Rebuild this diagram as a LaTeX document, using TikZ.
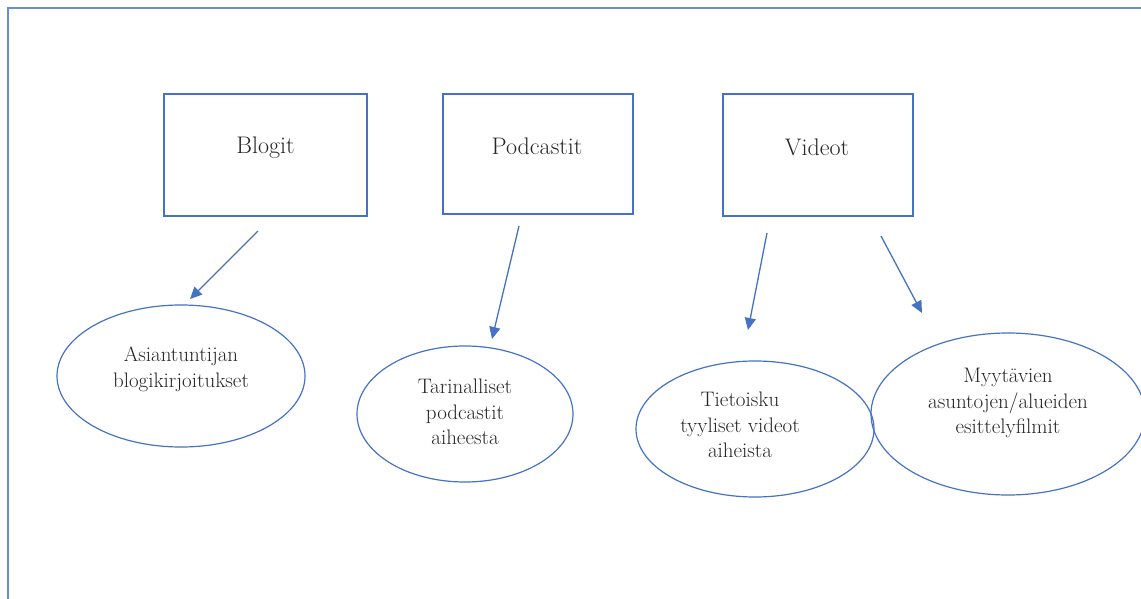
\documentclass[tikz,border=0pt]{standalone}
\usepackage{tikz}
\usetikzlibrary{shapes.geometric,arrows.meta}
\definecolor{lineblue}{HTML}{4472C4}
\definecolor{frameblue}{HTML}{6A8BD6}
\begin{document}
\begin{tikzpicture}[x=1pt,y=-1pt,
  catbox/.style={draw=lineblue,line width=1.3pt,minimum width=#1,inner sep=0pt},
  cattext/.style={font=\fontsize{24}{28}\selectfont,text=black!85},
  oval/.style={draw=lineblue,line width=1.2pt,ellipse,inner sep=0pt},
  ovaltext/.style={align=center,text=black!85,font=\fontsize{21}{25.5}\selectfont},
  conn/.style={draw=lineblue,line width=1.3pt,-{Triangle[length=12pt,width=11pt]}}]
\useasboundingbox (0,0) rectangle (1141,599);
% frame
\coordinate (f1) at (8,620);
\coordinate (f2) at (8,8);
\coordinate (f3) at (1160,8);
\draw[frameblue,line width=2pt] (f1) -- (f2) -- (f3);
% category boxes
\node[catbox=203pt,minimum height=122pt] (b1) at (265.5,155) {};
\node[catbox=190pt,minimum height=120pt] (b2) at (538,154) {};
\node[catbox=190pt,minimum height=122pt] (b3) at (818,155) {};
\node[cattext] (b1t) at (265.5,148) {Blogit};
\node[cattext] (b2t) at (537,146) {Podcastit};
\node[cattext] (b3t) at (817,147) {Videot};
% ellipses
\node[oval,minimum width=248pt,minimum height=142pt] (e1) at (181,376) {};
\node[oval,minimum width=216pt,minimum height=136pt] (e2) at (465,414) {};
\node[oval,minimum width=238pt,minimum height=136pt] (e3) at (755,429) {};
\node[oval,minimum width=274pt,minimum height=162pt] (e4) at (1008,414) {};
\node[ovaltext] (e1t) at (181,369) {Asiantuntijan\\blogikirjoitukset};
\node[ovaltext] (e2t) at (465,412) {Tarinalliset\\podcastit\\aiheesta};
\node[ovaltext] (e3t) at (740,425) {Tietoisku\\tyyliset videot\\aiheista};
\node[ovaltext] (e4t) at (1008,403) {Myytävien\\asuntojen/alueiden\\esittelyfilmit};
% arrows
\coordinate (a1s) at (258,231); \coordinate (a1e) at (190,299);
\coordinate (a2s) at (519,226); \coordinate (a2e) at (492,339);
\coordinate (a3s) at (767,233); \coordinate (a3e) at (748,330);
\coordinate (a4s) at (881,236); \coordinate (a4e) at (922,313);
\draw[conn] (a1s) -- (a1e);
\draw[conn] (a2s) -- (a2e);
\draw[conn] (a3s) -- (a3e);
\draw[conn] (a4s) -- (a4e);
\end{tikzpicture}
\end{document}
